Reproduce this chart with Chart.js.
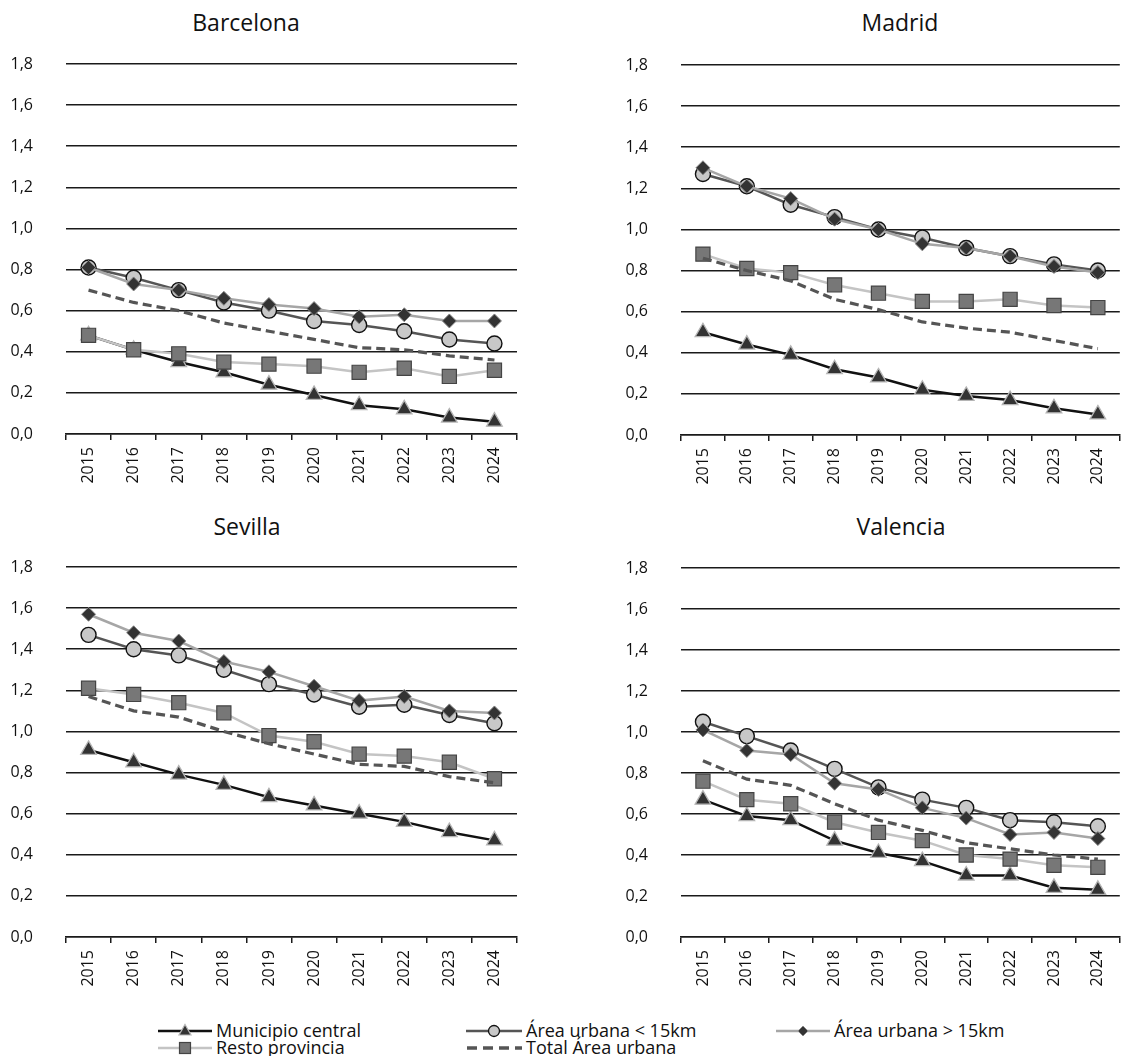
<!DOCTYPE html>
<html lang="es">
<head>
<meta charset="utf-8">
<title>Evolución por área urbana</title>
<script src="https://cdn.jsdelivr.net/npm/chart.js@4.4.1/dist/chart.umd.min.js"></script>
<style>
  html, body { margin: 0; padding: 0; background: #fff; width: 1128px; height: 1056px; overflow: hidden; }
  body { position: relative; font-family: "Open Sans", sans-serif; color: #111; }
  canvas { position: absolute; display: block; }
  .title { position: absolute; font-size: 23px; line-height: 23px; white-space: nowrap; transform: translateX(-50%); }
  .item { position: absolute; height: 17px; display: flex; align-items: center; font-size: 18px; line-height: 17px; white-space: nowrap; }
  .item svg { flex: none; margin-right: 4px; }
</style>
</head>
<body>
<div class="title" style="left:246px; top:11px;">Barcelona</div>
<div class="title" style="left:900px; top:11px;">Madrid</div>
<div class="title" style="left:247px; top:515px;">Sevilla</div>
<div class="title" style="left:901px; top:515px;">Valencia</div>

<canvas id="bcn" width="564" height="490" style="left:0; top:0;"></canvas>
<canvas id="mad" width="567" height="490" style="left:564px; top:0;"></canvas>
<canvas id="sev" width="564" height="510" style="left:0; top:490px;"></canvas>
<canvas id="val" width="567" height="510" style="left:564px; top:490px;"></canvas>

<div class="item" style="left:158px; top:1022px;">
  <svg width="54" height="16"><line x1="0" y1="8" x2="54" y2="8" stroke="#111" stroke-width="2.5"/><polygon points="27,1.5 33,12 21,12" fill="#333" stroke="#b5b5b5" stroke-width="1.2"/></svg>Municipio central</div>
<div class="item" style="left:466px; top:1022px;">
  <svg width="56" height="16"><line x1="0" y1="8" x2="56" y2="8" stroke="#555" stroke-width="2.5"/><circle cx="28" cy="8" r="5.5" fill="#c8c8c8" stroke="#111" stroke-width="1.3"/></svg>Área urbana &lt; 15km</div>
<div class="item" style="left:776px; top:1022px;">
  <svg width="54" height="16"><line x1="0" y1="8" x2="54" y2="8" stroke="#a6a6a6" stroke-width="2.5"/><polygon points="27,3 32,8 27,13 22,8" fill="#333" stroke="#888" stroke-width="1"/></svg>Área urbana &gt; 15km</div>
<div class="item" style="left:158px; top:1039px;">
  <svg width="54" height="16"><line x1="0" y1="8" x2="54" y2="8" stroke="#c4c4c4" stroke-width="2.5"/><rect x="21.5" y="2.5" width="11" height="11" fill="#777" stroke="#444" stroke-width="1.2"/></svg>Resto provincia</div>
<div class="item" style="left:466px; top:1039px;">
  <svg width="56" height="16"><line x1="1" y1="8" x2="56" y2="8" stroke="#555" stroke-width="3.5" stroke-dasharray="10,6"/></svg>Total Área urbana</div>

<script>
// Years on the horizontal axis
const years = ['2015', '2016', '2017', '2018', '2019', '2020', '2021', '2022', '2023', '2024'];
// Vertical axis ticks
const yTickValues = [0, 0.2, 0.4, 0.6, 0.8, 1.0, 1.2, 1.4, 1.6, 1.8];

// Barcelona
const bcnMunicipio = [0.48, 0.41, 0.35, 0.30, 0.24, 0.19, 0.14, 0.12, 0.08, 0.06];
const bcnMenos15   = [0.81, 0.76, 0.70, 0.64, 0.60, 0.55, 0.53, 0.50, 0.46, 0.44];
const bcnMas15     = [0.81, 0.73, 0.70, 0.66, 0.63, 0.61, 0.57, 0.58, 0.55, 0.55];
const bcnResto     = [0.48, 0.41, 0.39, 0.35, 0.34, 0.33, 0.30, 0.32, 0.28, 0.31];
const bcnTotal     = [0.70, 0.64, 0.60, 0.54, 0.50, 0.46, 0.42, 0.41, 0.38, 0.36];

// Madrid
const madMunicipio = [0.50, 0.44, 0.39, 0.32, 0.28, 0.22, 0.19, 0.17, 0.13, 0.10];
const madMenos15   = [1.27, 1.21, 1.12, 1.06, 1.00, 0.96, 0.91, 0.87, 0.83, 0.80];
const madMas15     = [1.30, 1.21, 1.15, 1.05, 1.00, 0.93, 0.91, 0.87, 0.82, 0.79];
const madResto     = [0.88, 0.81, 0.79, 0.73, 0.69, 0.65, 0.65, 0.66, 0.63, 0.62];
const madTotal     = [0.86, 0.80, 0.75, 0.66, 0.61, 0.55, 0.52, 0.50, 0.46, 0.42];

// Sevilla
const sevMunicipio = [0.91, 0.85, 0.79, 0.74, 0.68, 0.64, 0.60, 0.56, 0.51, 0.47];
const sevMenos15   = [1.47, 1.40, 1.37, 1.30, 1.23, 1.18, 1.12, 1.13, 1.08, 1.04];
const sevMas15     = [1.57, 1.48, 1.44, 1.34, 1.29, 1.22, 1.15, 1.17, 1.10, 1.09];
const sevResto     = [1.21, 1.18, 1.14, 1.09, 0.98, 0.95, 0.89, 0.88, 0.85, 0.77];
const sevTotal     = [1.17, 1.10, 1.07, 1.00, 0.94, 0.89, 0.84, 0.83, 0.78, 0.75];

// Valencia
const valMunicipio = [0.67, 0.59, 0.57, 0.47, 0.41, 0.37, 0.30, 0.30, 0.24, 0.23];
const valMenos15   = [1.05, 0.98, 0.91, 0.82, 0.73, 0.67, 0.63, 0.57, 0.56, 0.54];
const valMas15     = [1.01, 0.91, 0.89, 0.75, 0.72, 0.63, 0.58, 0.50, 0.51, 0.48];
const valResto     = [0.76, 0.67, 0.65, 0.56, 0.51, 0.47, 0.40, 0.38, 0.35, 0.34];
const valTotal     = [0.86, 0.77, 0.74, 0.65, 0.57, 0.52, 0.46, 0.43, 0.40, 0.38];

const FONT = "'Open Sans', sans-serif";
const INK = '#1a1a1a';

function datasets(municipio, menos15, mas15, resto, total) {
  const base = { tension: 0, clip: false, borderWidth: 2.5 };
  return [
    Object.assign({}, base, {
      label: 'Municipio central', data: municipio, order: 5,
      borderColor: '#111', pointStyle: 'triangle', pointRadius: 9,
      pointBackgroundColor: '#333', pointBorderColor: '#b5b5b5', pointBorderWidth: 1.3
    }),
    Object.assign({}, base, {
      label: 'Área urbana < 15km', data: menos15, order: 4,
      borderColor: '#555', pointStyle: 'circle', pointRadius: 7.5,
      pointBackgroundColor: '#c8c8c8', pointBorderColor: '#111', pointBorderWidth: 1.4
    }),
    Object.assign({}, base, {
      label: 'Área urbana > 15km', data: mas15, order: 3,
      borderColor: '#a6a6a6', pointStyle: 'rectRot', pointRadius: 7,
      pointBackgroundColor: '#333', pointBorderColor: '#888', pointBorderWidth: 1
    }),
    Object.assign({}, base, {
      label: 'Resto provincia', data: resto, order: 2,
      borderColor: '#c4c4c4', pointStyle: 'rect', pointRadius: 10,
      pointBackgroundColor: '#777', pointBorderColor: '#444', pointBorderWidth: 1.2
    }),
    Object.assign({}, base, {
      label: 'Total Área urbana', data: total, order: 1,
      borderColor: '#555', borderWidth: 3.2, borderDash: [9, 5], pointRadius: 0
    })
  ];
}

function panel(id, sets, box) {
  return new Chart(document.getElementById(id), {
    type: 'line',
    data: { labels: years, datasets: sets },
    options: {
      responsive: false,
      animation: false,
      devicePixelRatio: 1,
      events: [],
      layout: { padding: { top: box.top, right: box.right, left: 0, bottom: 0 } },
      plugins: { legend: { display: false }, tooltip: { enabled: false }, title: { display: false } },
      scales: {
        x: {
          offset: true,
          grid: { display: true, offset: true, drawOnChartArea: false, drawTicks: true, tickLength: 6, color: INK, lineWidth: 1.5 },
          border: { display: true, color: INK, width: 1.5 },
          ticks: { autoSkip: false, minRotation: 90, maxRotation: 90, padding: 7, color: '#111', font: { family: FONT, size: 16 } },
          afterFit: s => { s.height = box.xh; }
        },
        y: {
          min: 0, max: 1.8,
          afterBuildTicks: axis => { axis.ticks = yTickValues.map(v => ({ value: v })); },
          grid: { drawTicks: false, color: INK, lineWidth: 1.5 },
          border: { display: false },
          ticks: {
            padding: 33, color: '#111', font: { family: FONT, size: 16 },
            callback: v => Number(v).toFixed(1).replace('.', ',')
          },
          afterFit: s => { s.width = box.yw; }
        }
      }
    }
  });
}

panel('bcn', datasets(bcnMunicipio, bcnMenos15, bcnMas15, bcnResto, bcnTotal), { top: 64, right: 47, yw: 66, xh: 56 });
panel('mad', datasets(madMunicipio, madMenos15, madMas15, madResto, madTotal), { top: 65, right: 0, yw: 117, xh: 55 });
panel('sev', datasets(sevMunicipio, sevMenos15, sevMas15, sevResto, sevTotal), { top: 77, right: 47, yw: 66, xh: 63 });
panel('val', datasets(valMunicipio, valMenos15, valMas15, valResto, valTotal), { top: 78, right: 0, yw: 117, xh: 63 });
</script>
</body>
</html>
